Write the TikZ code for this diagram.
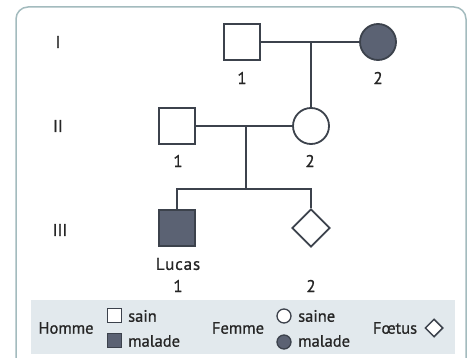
\documentclass[tikz,border=0pt]{standalone}
\usepackage{fontspec}
\setmainfont{PT Sans}
\newfontfamily\medfont[FakeBold=0.9]{PT Sans}
\usetikzlibrary{shapes.geometric}
\definecolor{lin}{HTML}{3C424C}
\definecolor{sick}{HTML}{5B6273}
\definecolor{frame}{HTML}{A3BBBE}
\definecolor{legbg}{HTML}{E2E9ED}
\definecolor{txt}{HTML}{262626}
\tikzset{
  male/.style={draw=lin, line width=1.8pt, rectangle, minimum size=36pt, inner sep=0pt, fill=white},
  female/.style={draw=lin, line width=1.8pt, circle, minimum size=36pt, inner sep=0pt, fill=white},
  fetus/.style={draw=lin, line width=1.8pt, diamond, minimum width=38pt, minimum height=38pt, inner sep=0pt, fill=white},
  ill/.style={fill=sick},
  link/.style={draw=lin, line width=1.8pt},
  lab/.style={text=txt, font=\medfont\fontsize{17}{19}\selectfont, inner sep=0pt},
  leg/.style={text=txt, font=\medfont\fontsize{16.5}{18}\selectfont, inner sep=0pt},
  gen/.style={text=txt, font=\medfont\fontsize{17}{19}\selectfont, inner sep=0pt},
  lmale/.style={draw=lin, line width=1.3pt, rectangle, minimum size=14pt, inner sep=0pt, fill=white},
  lfemale/.style={draw=lin, line width=1.3pt, circle, minimum size=14pt, inner sep=0pt, fill=white},
  lfetus/.style={draw=lin, line width=1.5pt, diamond, minimum width=18pt, minimum height=18pt, inner sep=0pt, fill=white},
}
\begin{document}
\begin{tikzpicture}[x=1pt,y=-1pt]
\clip (0,0) rectangle (473,358);
\fill[white] (0,0) rectangle (473,358);
% outer frame
\draw[frame, line width=1.5pt, rounded corners=12pt] (16,7) rectangle (466,372);
% legend background
\fill[legbg] (31,300) rectangle (455,354);

% generation labels
\node[gen] (gI) at (58,42) {I};
\node[gen] (gII) at (58,126) {II};
\node[gen] (gIII) at (60,230) {III};

% individuals
\node[male] (I1) at (242,42) {};
\node[female, ill] (I2) at (378,42) {};
\node[male] (II1) at (177,126) {};
\node[female] (II2) at (311,126) {};
\node[male, ill] (III1) at (177,228) {};
\node[fetus] (III2) at (311,228) {};

% couples and descent
\coordinate (c1) at (311,42);
\coordinate (c2) at (246,126);
\coordinate (sib) at (246,189);
\draw[link] (I1.east) -- (I2.west);
\draw[link] (c1) -- (II2.north);
\draw[link] (II1.east) -- (II2.west);
\draw[link] (c2) -- (sib);
\draw[link] (III1.north) |- (sib) -| (III2.north);

% numbers
\node[lab] (nI1) at (242,78) {1};
\node[lab] (nI2) at (378,78) {2};
\node[lab] (nII1) at (178,161) {1};
\node[lab] (nII2) at (310,161) {2};
\node[lab] (lucas) at (178,264) {\addfontfeature{LetterSpace=5}Lucas};
\node[lab] (nIII1) at (178,286) {1};
\node[lab] (nIII2) at (311,286) {2};

% legend
\node[leg] (homme) at (66,328) {Homme};
\node[lmale] (lm1) at (114.5,315.5) {};
\node[leg, anchor=west] (tsain) at (128,316) {sain};
\node[lmale, ill] (lm2) at (114.5,340.5) {};
\node[leg, anchor=west] (tmal1) at (128,341) {malade};
\node[leg] (femme) at (238,328) {Femme};
\node[lfemale] (lf1) at (284,316) {};
\node[leg, anchor=west] (tsaine) at (298,316) {saine};
\node[lfemale, ill] (lf2) at (284,342) {};
\node[leg, anchor=west] (tmal2) at (298,341) {malade};
\node[leg] (foetus) at (395,328) {Fœtus};
\node[lfetus] (lfe) at (434,328) {};
\end{tikzpicture}
\end{document}
